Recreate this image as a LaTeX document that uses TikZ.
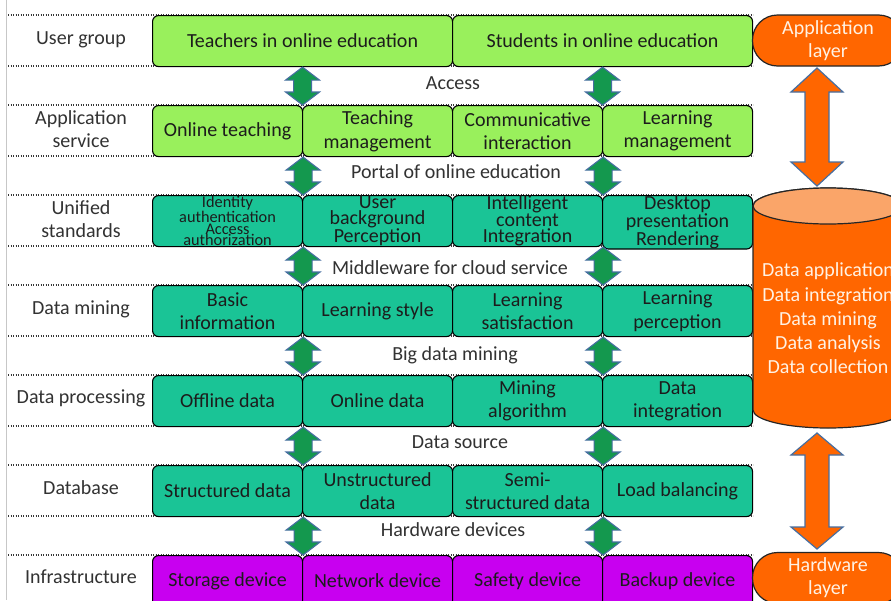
\documentclass[tikz,border=0pt]{standalone}
\usepackage{fontspec}
\setmainfont{Carlito}
\usetikzlibrary{calc}
\definecolor{lgreen}{RGB}{153,240,92}
\definecolor{teal2}{RGB}{26,196,150}
\definecolor{purp}{RGB}{200,0,240}
\definecolor{orng}{RGB}{255,102,0}
\definecolor{peach}{RGB}{250,165,105}
\definecolor{dgreen}{RGB}{20,152,78}
\definecolor{steel}{RGB}{70,110,160}
\definecolor{txt}{RGB}{28,28,28}
\definecolor{lbl}{RGB}{50,50,50}
\definecolor{wtxt}{RGB}{255,242,228}
\newcommand{\dblarr}[6]{%
  \path[#1] let \p1=(#2), \p2=(#3) in
  (\x1,\y1) -- (\x1+#4,\y1-#6) -- (\x1+#5,\y1-#6) -- (\x1+#5,\y2+#6) -- (\x1+#4,\y2+#6) --
  (\x1,\y2) -- (\x1-#4,\y2+#6) -- (\x1-#5,\y2+#6) -- (\x1-#5,\y1-#6) -- (\x1-#4,\y1-#6) -- cycle;}
\begin{document}
\begin{tikzpicture}[x=1pt,y=-1pt,
  base/.style={font=\fontsize{20}{23.5}\selectfont},
  box/.style={base, draw=black, line width=1.1pt, rounded corners=6pt, minimum width=150pt,
    minimum height=51pt, anchor=north west, inner sep=0pt, text=txt, align=center},
  wbox/.style={box, minimum width=300pt},
  gbox/.style={box, fill=lgreen},
  tbox/.style={box, fill=teal2},
  pbox/.style={box, fill=purp},
  rowlbl/.style={base, text=lbl, align=center, inner sep=0pt},
  gaplbl/.style={base, text=lbl, inner sep=0pt},
  dotline/.style={draw={rgb,255:red,55;green,55;blue,55}, line width=1.7pt, dash pattern=on 1.1pt off 1.4pt},
  garrow/.style={fill=dgreen, draw=steel, line width=1.1pt, line join=miter},
  oarrow/.style={fill=orng, draw=steel, line width=1.2pt, line join=miter},
  layer/.style={base, draw=black!85, line width=1.2pt, fill=orng, rounded corners=25pt,
    minimum width=151pt, minimum height=51pt, inner sep=0pt, text=wtxt, align=center,
    font=\fontsize{20}{23}\selectfont}
]
\useasboundingbox (0,0) rectangle (891,600);
\clip (0,0) rectangle (891,600);
\fill[white] (0,0) rectangle (891,600);
\draw[black!22, line width=0.8pt] (6,0) -- (6,600);

% dotted row separators
\foreach \yy in {15,66,105,156,195,246,285,336,375,426,465,516,555}
  \draw[dotline] (8,\yy) -- (753,\yy);

% row labels
\node[rowlbl] (l1) at (81,40) {User group};
\node[rowlbl] (l2) at (81,129) {Application\\service};
\node[rowlbl] (l3) at (81,219) {Unified\\standards};
\node[rowlbl] (l4) at (81,309) {Data mining};
\node[rowlbl] (l5) at (81,398) {Data processing};
\node[rowlbl] (l6) at (81,488) {Database};
\node[rowlbl] (l7) at (81,577) {Infrastructure};

% row 1
\node[wbox, fill=lgreen] (r1a) at (152,15) {Teachers in online education};
\node[wbox, fill=lgreen] (r1b) at (452,15) {Students in online education};
% row 2
\node[gbox] (r2a) at (152,105) {Online teaching};
\node[gbox] (r2b) at (302,105) {Teaching\\management};
\node[gbox] (r2c) at (452,105) {Communicative\\interaction};
\node[gbox] (r2d) at (602,105) {Learning\\management};
% row 3
\node[tbox, font=\fontsize{16.3}{11.8}\selectfont] (r3a) at (152,195) {Identity\\authentication\\Access\\authorization};
\node[tbox, font=\fontsize{20}{16}\selectfont] (r3b) at (302,195) {User\\background\\Perception};
\node[tbox, font=\fontsize{20}{16}\selectfont] (r3c) at (452,195) {Intelligent\\content\\Integration};
\node[tbox, font=\fontsize{20}{16}\selectfont] (r3d) at (602,195) {Desktop\\presentation\\Rendering};
% row 4
\node[tbox] (r4a) at (152,285) {Basic\\information};
\node[tbox] (r4b) at (302,285) {Learning style};
\node[tbox] (r4c) at (452,285) {Learning\\satisfaction};
\node[tbox] (r4d) at (602,285) {Learning\\perception};
% row 5
\node[tbox] (r5a) at (152,375) {Offline data};
\node[tbox] (r5b) at (302,375) {Online data};
\node[tbox] (r5c) at (452,375) {Mining\\algorithm};
\node[tbox] (r5d) at (602,375) {Data\\integration};
% row 6
\node[tbox] (r6a) at (152,465) {Structured data};
\node[tbox] (r6b) at (302,465) {Unstructured\\data};
\node[tbox] (r6c) at (452,465) {Semi-\\structured data};
\node[tbox] (r6d) at (602,465) {Load balancing};
% row 7
\node[pbox] (r7a) at (152,555) {Storage device};
\node[pbox] (r7b) at (302,555) {Network device};
\node[pbox] (r7c) at (452,555) {Safety device};
\node[pbox] (r7d) at (602,555) {Backup device};

% gap labels
\node[gaplbl] (g1) at (453,83) {Access};
\node[gaplbl] (g2) at (456,172) {Portal of online education};
\node[gaplbl] (g3) at (450,268) {Middleware for cloud service};
\node[gaplbl] (g4) at (455,355) {Big data mining};
\node[gaplbl] (g5) at (460,442) {Data source};
\node[gaplbl] (g6) at (453,530) {Hardware devices};

% green double arrows
\dblarr{garrow}{r1a.south}{r2a.north east}{17pt}{9pt}{13pt}
\dblarr{garrow}{r1b.south}{r2c.north east}{17pt}{9pt}{13pt}
\foreach \u/\d in {r2/r3, r3/r4, r4/r5, r5/r6, r6/r7}{
  \dblarr{garrow}{\u a.south east}{\d a.north east}{17pt}{9pt}{13pt}
  \dblarr{garrow}{\u c.south east}{\d c.north east}{17pt}{9pt}{13pt}
}

% right side: layers and data cylinder
\node[layer] (app) at (828,40.5) {Application\\layer};
\node[layer] (hw) at (828,578) {Hardware\\layer};

\coordinate (cyltop) at (828,206);
\coordinate (cylbot) at (828,410);
\path[fill=orng, draw=black!85, line width=1.2pt]
  (753,206) -- (753,410) arc[start angle=180, end angle=0, x radius=75, y radius=18]
  -- (903,206) arc[start angle=0, end angle=-180, x radius=75, y radius=18] -- cycle;
\path[fill=peach, draw=black!85, line width=1.2pt] (cyltop) ellipse[x radius=75, y radius=18];
\node[base, text=wtxt, align=center, font=\fontsize{20}{24.3}\selectfont] (cyl) at (828,318.5)
  {Data application\\Data integration\\Data mining\\Data analysis\\Data collection};

\coordinate (oa1) at (817,68);
\coordinate (oa2) at (817,186);
\coordinate (ob1) at (817,433);
\coordinate (ob2) at (817,549);
\dblarr{oarrow}{oa1}{oa2}{26pt}{12pt}{24pt}
\dblarr{oarrow}{ob1}{ob2}{26pt}{12pt}{22pt}
\end{tikzpicture}
\end{document}
